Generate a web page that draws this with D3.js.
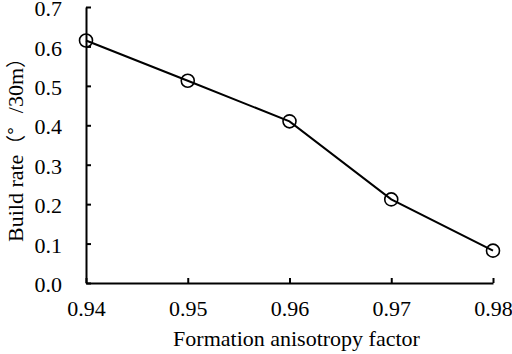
<!DOCTYPE html>
<html>
<head>
<meta charset="utf-8">
<script src="https://cdn.jsdelivr.net/npm/d3@7"></script>
<style>
  body { margin: 0; background: #fff; }
  svg { display: block; }
  text { font-family: "Liberation Serif", "Noto Sans CJK SC", serif; fill: #000; }
</style>
</head>
<body>
<svg></svg>
<script>
const factors = [0.94, 0.95, 0.96, 0.97, 0.98];
const buildRates = [0.615, 0.513, 0.41, 0.212, 0.082];
const xTicks = [0.94, 0.95, 0.96, 0.97, 0.98];
const yTicks = [0, 0.1, 0.2, 0.3, 0.4, 0.5, 0.6, 0.7];

const svgWidth = 512;
const svgHeight = 354;
const margin = { top: 7, right: 19, bottom: 71, left: 86 };
const width = svgWidth - margin.left - margin.right;
const height = svgHeight - margin.top - margin.bottom;

const xScale = d3.scaleLinear()
    .domain([0.94, 0.98])
    .range([0, width]);

const yScale = d3.scaleLinear()
    .domain([0, 0.7])
    .range([height, 0]);

const svg = d3.select('svg')
    .attr('width', svgWidth)
    .attr('height', svgHeight)
    .append('g')
    .attr('transform', `translate(${margin.left}, ${margin.top})`);

// axes, ticks pointing inward
const xAxis = svg.append('g')
    .attr('transform', `translate(0, ${height})`)
    .call(d3.axisBottom(xScale).tickValues(xTicks).tickSizeInner(-5).tickSizeOuter(0).tickPadding(17).tickFormat(d3.format('.2f')));

const yAxis = svg.append('g')
    .call(d3.axisLeft(yScale).tickValues(yTicks).tickSizeInner(-5).tickSizeOuter(0).tickPadding(24).tickFormat(d3.format('.1f')));

[xAxis, yAxis].forEach(a => {
    a.select('.domain').attr('stroke', '#000').attr('stroke-width', 2);
    a.selectAll('.tick line').attr('stroke', '#000').attr('stroke-width', 2);
    a.selectAll('.tick text').attr('font-size', '22px').attr('font-family', '"Liberation Serif", serif');
});
yAxis.selectAll('.tick text').attr('dy', '0.39em');

const points = factors.map((f, i) => ({ x: f, y: buildRates[i] }));

svg.append('path')
    .datum(points)
    .attr('fill', 'none')
    .attr('stroke', '#000')
    .attr('stroke-width', 2)
    .attr('d', d3.line().x(d => xScale(d.x)).y(d => yScale(d.y)));

svg.selectAll('.pt')
    .data(points)
    .enter().append('circle')
    .attr('class', 'pt')
    .attr('cx', d => xScale(d.x))
    .attr('cy', d => yScale(d.y))
    .attr('r', 6.5)
    .attr('fill', 'none')
    .attr('stroke', '#000')
    .attr('stroke-width', 1.6);

svg.append('text')
    .attr('x', width / 2 + 7)
    .attr('y', height + 63)
    .attr('text-anchor', 'middle')
    .attr('font-size', '22px')
    .text('Formation anisotropy factor');

const yTitle = svg.append('text')
    .attr('transform', `translate(${-margin.left + 23}, ${height / 2}) rotate(-90)`)
    .attr('text-anchor', 'middle')
    .attr('font-size', '22px');
yTitle.append('tspan').text('Build rate');
yTitle.append('tspan').attr('font-family', '"Noto Sans CJK SC"').attr('font-size', '20px').text('（°');
yTitle.append('tspan').attr('dx', 14).text('/30m');
yTitle.append('tspan').attr('font-family', '"Noto Sans CJK SC"').attr('font-size', '20px').text('）');
</script>
</body>
</html>
